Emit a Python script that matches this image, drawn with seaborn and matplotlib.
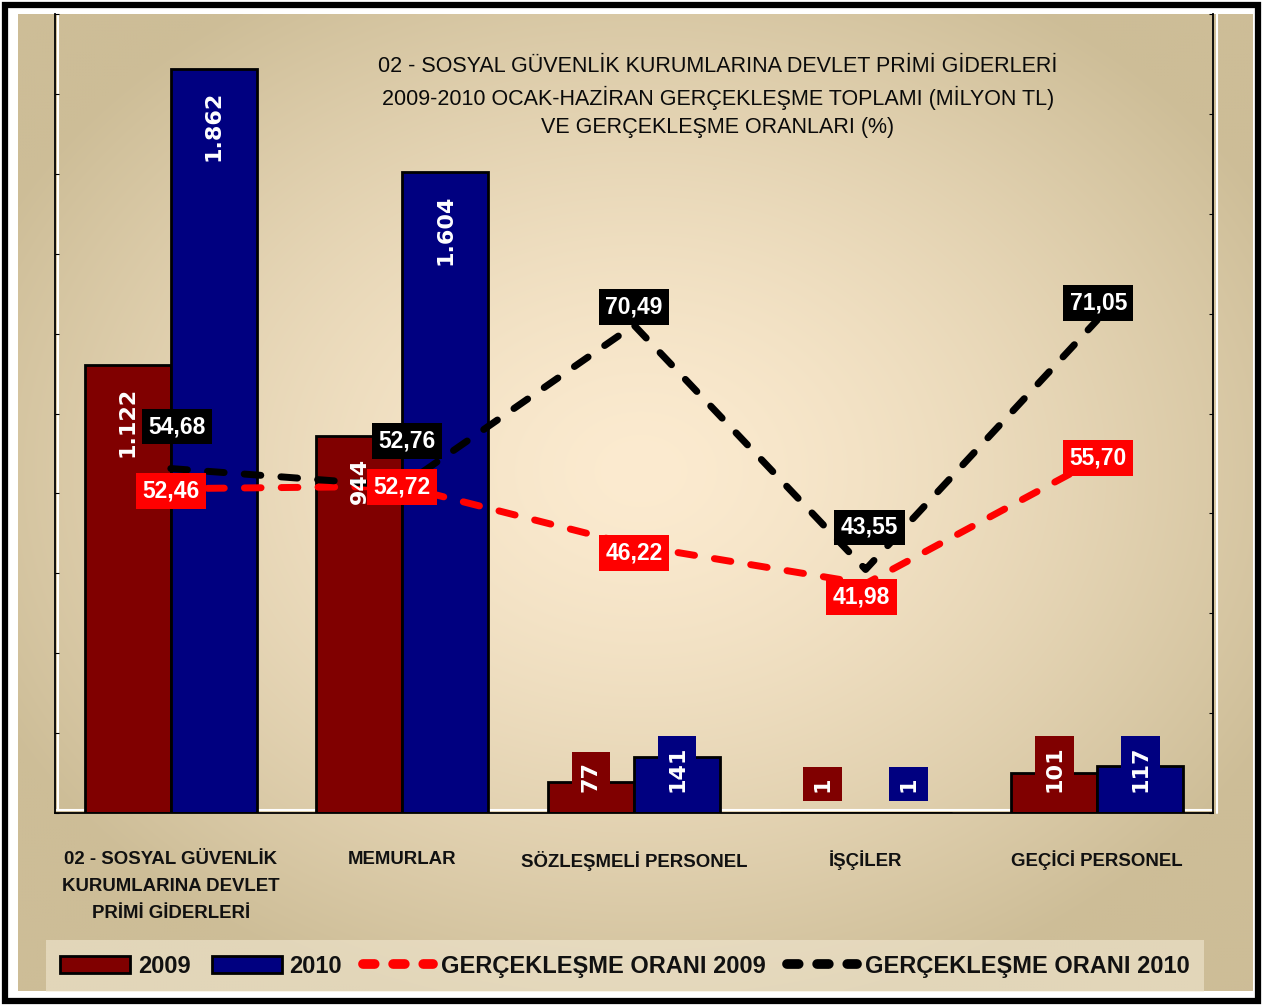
import numpy as np
import pandas as pd
import matplotlib
matplotlib.use("Agg")
import matplotlib.pyplot as plt
import matplotlib.colors as mcolors
from matplotlib.patches import Rectangle, Patch
from matplotlib.lines import Line2D
from matplotlib.ticker import MultipleLocator, LinearLocator
import seaborn as sns

# veriler (milyon TL ve %)
kategoriler = ["02 - SOSYAL GÜVENLİK\nKURUMLARINA DEVLET\nPRİMİ GİDERLERİ",
               "MEMURLAR", "SÖZLEŞMELİ PERSONEL", "İŞÇİLER", "GEÇİCİ PERSONEL"]
yillar = ["2009", "2010"]
gider_2009 = [1122, 944, 77, 1, 101]
gider_2010 = [1862, 1604, 141, 1, 117]
oran_2009 = [52.46, 52.72, 46.22, 41.98, 55.70]
oran_2010 = [54.68, 52.76, 70.49, 43.55, 71.05]

baslik_satirlari = ["02 - SOSYAL GÜVENLİK KURUMLARINA DEVLET PRİMİ GİDERLERİ",
                    "2009-2010 OCAK-HAZİRAN GERÇEKLEŞME TOPLAMI (MİLYON TL)",
                    "VE GERÇEKLEŞME ORANLARI (%)"]
seri_adlari = ["2009", "2010", "GERÇEKLEŞME ORANI 2009", "GERÇEKLEŞME ORANI 2010"]

# stil
renk_2009 = "#800000"
renk_2010 = "#000080"
renk_oran_2009 = "#ff0000"
renk_oran_2010 = "#000000"
# oran etiketlerinin noktaya gore kaymasi (piksel: sag, yukari)
kayma_2010 = [(6, 42), (5, 45), (0, 18), (4, 42), (1, 17)]
kayma_2009 = [(0, -2), (0, -1), (0, -8), (-4, -13), (1, 1)]
baslik_y = [66, 98, 128]  # piksel

sns.set_style("white")
plt.rcParams["font.family"] = ["Liberation Sans", "DejaVu Sans"]

W, H = 1263, 1005
PX = 0.72  # piksel -> punto

def tr_sayi(v):
    return f"{v:,}".replace(",", ".")

def tr_oran(v):
    return f"{v:.2f}".replace(".", ",")

fig = plt.figure(figsize=(W / 100, H / 100), dpi=100, facecolor="white")

# arka plan: bej degrade ve cerceve
bg = fig.add_axes([0, 0, 1, 1], zorder=-5)
bg.set_xlim(0, W)
bg.set_ylim(H, 0)
bg.axis("off")
yy, xx = np.mgrid[14:991:3, 18:1253:3]
d = np.sqrt(((xx - 640) / 720.0) ** 2 + ((yy - 470) / 560.0) ** 2)
t = np.clip(d, 0, 1) ** 1.4
c0 = np.array(mcolors.to_rgb("#fcebd0"))
c1 = np.array(mcolors.to_rgb("#cdbd97"))
img = c0 * (1 - t[..., None]) + c1 * t[..., None]
bg.imshow(img, extent=(18, 1253, 991, 14), aspect="auto", interpolation="bilinear")
bg.add_patch(Rectangle((5, 5), 1253, 996, fill=False, edgecolor="black", lw=4.5))
bg.plot([57.5, 57.5], [14, 810], color="white", lw=1.5)
bg.plot([57, 1213], [810, 810], color="white", lw=1.5)
bg.plot([1217, 1217], [14, 813], color="white", lw=1.5)

ax = fig.add_axes([55 / W, 1 - 813 / H, (1213 - 55) / W, (813 - 14) / H])
ax.patch.set_alpha(0)

df = pd.DataFrame({
    "kategori": kategoriler * 2,
    "yil": [yillar[0]] * len(kategoriler) + [yillar[1]] * len(kategoriler),
    "gider": gider_2009 + gider_2010,
})
sns.barplot(data=df, x="kategori", y="gider", hue="yil", palette=[renk_2009, renk_2010],
            width=0.743, edgecolor="black", linewidth=2, saturation=1, legend=False, ax=ax)
ax.set_ylim(0, 2000)
ax.set_xlim(-0.5, len(kategoriler) - 0.5)
ax.set_xlabel("")
ax.set_ylabel("")

# eksenler
ax.set_xticks(range(len(kategoriler)))
ax.set_xticklabels(kategoriler, fontsize=13.4, fontweight="bold", linespacing=1.8,
                   color="#111111")
ax.set_xticks(np.arange(-0.5, len(kategoriler), 1), minor=True)
ax.tick_params(axis="x", which="major", length=0, pad=27)
ax.tick_params(axis="x", which="minor", length=8, width=1, direction="out", color="black")
ax.yaxis.set_major_locator(MultipleLocator(200))
ax.tick_params(axis="y", length=3, direction="in", labelleft=False, color="black")
for s in ["top", "right"]:
    ax.spines[s].set_visible(False)
for s in ["left", "bottom"]:
    ax.spines[s].set_color("black")
    ax.spines[s].set_linewidth(1.3)

# oran cizgileri
ax2 = ax.twinx()
x_pos = np.arange(len(kategoriler))
cizgi_stili = (0, (2.4, 2.9))
sns.lineplot(x=x_pos, y=oran_2009, ax=ax2, color=renk_oran_2009, linewidth=5,
             linestyle=cizgi_stili, dash_capstyle="round")
sns.lineplot(x=x_pos, y=oran_2010, ax=ax2, color=renk_oran_2010, linewidth=5,
             linestyle=cizgi_stili, dash_capstyle="round")
ax2.set_ylim(16.7, 104.8)
ax2.yaxis.set_major_locator(LinearLocator(9))
ax2.tick_params(axis="y", length=3, direction="in", labelright=False, color="black")
for s in ["top", "left", "bottom"]:
    ax2.spines[s].set_visible(False)
ax2.spines["right"].set_color("black")
ax2.spines["right"].set_linewidth(1.3)

# bar etiketleri (cizgilerin ustunde kalsin diye ax2 uzerinde)
for cont, renk in zip(ax.containers, [renk_2009, renk_2010]):
    for bar in cont:
        v = bar.get_height()
        xc = bar.get_x() + bar.get_width() / 2
        if v > 500:
            ax2.annotate(tr_sayi(int(round(v))), (xc, v), xycoords=ax.transData,
                         xytext=(0, -22 * PX), textcoords="offset points", rotation=90,
                         ha="center", va="top", color="white", fontsize=16,
                         fontweight="bold", family="DejaVu Sans", zorder=4)
        else:
            ax2.annotate(tr_sayi(int(round(v))), (xc, 0), xycoords=ax.transData,
                         xytext=(0, 21 * PX), textcoords="offset points", rotation=90,
                         ha="center", va="bottom", color="white", fontsize=16,
                         fontweight="bold", family="DejaVu Sans", zorder=4,
                         bbox=dict(boxstyle="square,pad=0.42", fc=renk, ec="none"))

for degerler, kaymalar, renk in [(oran_2010, kayma_2010, renk_oran_2010),
                                 (oran_2009, kayma_2009, renk_oran_2009)]:
    for xi, v, (dx, dy) in zip(x_pos, degerler, kaymalar):
        ax2.annotate(tr_oran(v), (xi, v), xytext=(dx * PX, dy * PX), textcoords="offset points",
                     ha="center", va="center", color="white", fontsize=16.5, fontweight="bold",
                     bbox=dict(boxstyle="square,pad=0.28", fc=renk, ec="none"), zorder=5)

# baslik
for satir, yp in zip(baslik_satirlari, baslik_y):
    fig.text(718 / W, 1 - yp / H, satir, ha="center", va="center", fontsize=15.5,
             color="#0a0a0a")

# lejant
lejant_cizgi = (0, (1.2, 1.9))
tutamaclar = [
    Patch(facecolor=renk_2009, edgecolor="black", linewidth=2),
    Patch(facecolor=renk_2010, edgecolor="black", linewidth=2),
    Line2D([], [], color=renk_oran_2009, lw=7, linestyle=lejant_cizgi, dash_capstyle="round"),
    Line2D([], [], color=renk_oran_2010, lw=7, linestyle=lejant_cizgi, dash_capstyle="round"),
]
leg = fig.legend(tutamaclar, seri_adlari, loc="center", bbox_to_anchor=(625 / W, 1 - 966 / H),
                 ncol=4, frameon=True, fancybox=False, handlelength=2.95, handleheight=0.76,
                 handletextpad=0.34, columnspacing=0.9, borderpad=0.6,
                 prop={"family": "Liberation Sans", "weight": "bold", "size": 17})
for txt in leg.get_texts():
    txt.set_color("#111111")
leg.get_frame().set_facecolor("#f4ebd6")
leg.get_frame().set_alpha(0.55)
leg.get_frame().set_edgecolor("none")

fig.savefig("out.png", dpi=100)
